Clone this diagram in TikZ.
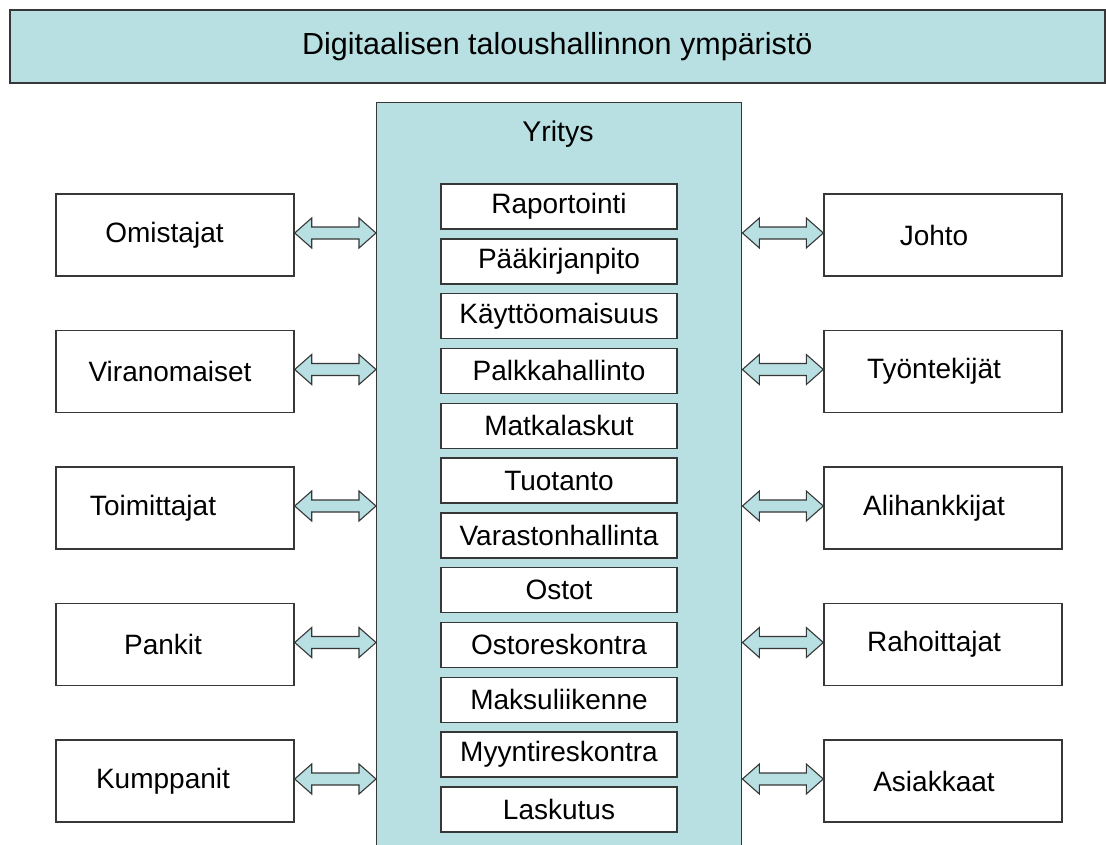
\documentclass[tikz,border=0pt]{standalone}
\usepackage{fontspec}
\setmainfont{Liberation Sans}
\usetikzlibrary{calc}
\definecolor{fillb}{RGB}{184,223,226}
\definecolor{edge}{RGB}{55,55,55}
\begin{document}
\begin{tikzpicture}[x=1pt,y=-1pt,
  box/.style={draw=edge, line width=1.4pt, fill=white, minimum width=238pt, minimum height=82pt, inner sep=0pt, font=\fontsize{28}{32}\selectfont},
  sub/.style={draw=edge, line width=1.4pt, fill=white, minimum width=236pt, minimum height=45pt, inner sep=0pt, font=\fontsize{28}{30}\selectfont},
  arr/.style={draw=edge, line width=1.1pt, fill=fillb, line join=miter}]
\useasboundingbox (0,0) rectangle (1106,844);
\clip (0,0) rectangle (1106,844);
\fill[white] (0,0) rectangle (1106,844);
% title
\node[draw=edge, line width=1.6pt, fill=fillb, minimum width=1095pt, minimum height=73pt, anchor=north west, inner sep=0pt, font=\fontsize{30.5}{33}\selectfont] (title) at (9,9) {Digitaalisen taloushallinnon ympäristö};
% company
\node[draw=edge, line width=1.4pt, fill=fillb, minimum width=365pt, minimum height=790pt, anchor=north west, inner sep=0pt] (yr) at (376,102) {};
\node[font=\fontsize{28.5}{32}\selectfont, inner sep=0pt] (yrt) at (558,134) {Yritys};
% inner list
\foreach \t [count=\i] in {Raportointi,Pääkirjanpito,Käyttöomaisuus,Palkkahallinto,Matkalaskut,Tuotanto,Varastonhallinta,Ostot,Ostoreskontra,Maksuliikenne,Myyntireskontra,Laskutus}{
  \node[sub] (s\i) at (559,{206.5+(\i-1)*54.8}) {\t};
}
% left boxes
\node[box] (l1) at (175,235) {Omistajat\hspace*{21pt}};
\node[box] (l2) at (175,371.5) {Viranomaiset\hspace*{10pt}};
\node[box] (l3) at (175,508) {Toimittajat\hspace*{44pt}};
\node[box] (l4) at (175,644.5) {Pankit\hspace*{24pt}};
\node[box] (l5) at (175,781) {Kumppanit\hspace*{24pt}};
% right boxes
\node[box] (r1) at (943,235) {Johto\hspace*{18pt}};
\node[box] (r2) at (943,371.5) {Työntekijät\hspace*{18pt}};
\node[box] (r3) at (943,508) {Alihankkijat\hspace*{18pt}};
\node[box] (r4) at (943,644.5) {Rahoittajat\hspace*{18pt}};
\node[box] (r5) at (943,781) {Asiakkaat\hspace*{18pt}};
% arrows
\foreach \i in {1,...,5}{
  \coordinate (la\i) at ($(l\i.east)+(0,-2)$);
  \coordinate (lb\i) at (yr.west |- la\i);
  \coordinate (ra\i) at (yr.east |- la\i);
  \coordinate (rb\i) at ($(r\i.west)+(0,-2)$);
  \foreach \a/\b in {la\i/lb\i, ra\i/rb\i}{
    \draw[arr] (\a) -- ++(17,-15) -- ++(0,9) -- ($(\b)+(-17,-6)$) -- ++(0,-9) -- (\b)
      -- ++(-17,15) -- ++(0,-9) -- ($(\a)+(17,6)$) -- ++(0,9) -- cycle;
  }
}
\end{tikzpicture}
\end{document}
